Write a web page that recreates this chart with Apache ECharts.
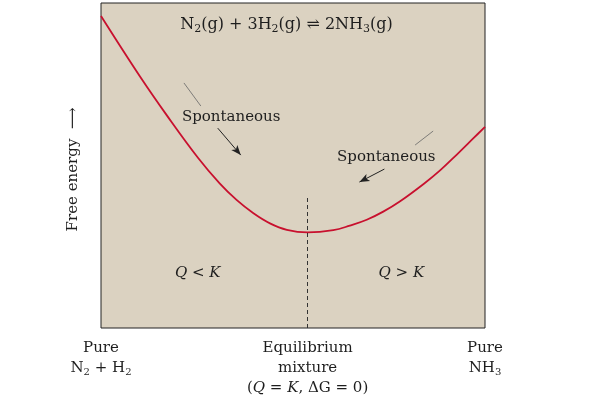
<!DOCTYPE html>
<html><head><meta charset="utf-8">
<script src="https://cdn.jsdelivr.net/npm/echarts@6/dist/echarts.min.js"></script>
<style>html,body{margin:0;padding:0;background:#fff}#c{width:600px;height:400px}</style>
</head><body><div id="c"></div>
<script>
// Reaction progress (0 = pure N2 + H2, 100 = pure NH3) and free energy (arbitrary units)
const composition = [0, 10.2, 17.1, 25.3, 30.9, 35.3, 39.7, 44.0, 48.4, 53.8, 60.5, 64.8, 69.2, 73.5, 77.9, 84.1, 88.3, 92.6, 97.0, 100];
const freeEnergy  = [96.0, 77.3, 65.5, 52.3, 44.5, 39.4, 35.3, 32.2, 30.2, 29.4, 30.1, 31.5, 33.3, 35.8, 39.0, 44.4, 48.5, 53.3, 58.4, 61.9];
const equilibriumX = 53.8;
const equilibriumTop = 40;
const tickValues = [0, 53.8, 100];
const tickLabels = [
  'Pure\nN{s|2} + H{s|2}',
  'Equilibrium\nmixture\n({i|Q} = {i|K}, ΔG = 0)',
  'Pure\nNH{s|3}'
];
const equationText = 'N{t|2}(g) + 3H{t|2}(g) ⇌ 2NH{t|3}(g)';
const regionLabels = ['{i|Q} < {i|K}', '{i|Q} > {i|K}'];
const spontaneousText = 'Spontaneous';

const FONT = 'DejaVu Serif';
const INK = '#1e1e1e';
const rich = {
  s: {fontFamily: FONT, fontSize: 10, color: INK, padding: [8, 0, 0, 0], lineHeight: 20},
  t: {fontFamily: FONT, fontSize: 11, color: INK, padding: [8, 0, 0, 0], lineHeight: 20},
  i: {fontFamily: FONT, fontSize: 15, color: INK, fontStyle: 'italic', lineHeight: 20}
};

const chart = echarts.init(document.getElementById('c'));
const arrowLine = (a, b) => [
  {coord: a, symbol: 'none', lineStyle: {color: '#222', width: 1, type: 'solid'}},
  {coord: b, symbol: 'arrow', symbolSize: [6, 10]}
];
const plainLine = (a, b) => [
  {coord: a, symbol: 'none', lineStyle: {color: '#666', width: 0.8, type: 'solid'}},
  {coord: b, symbol: 'none'}
];
const textPoint = (c, txt, size) => ({
  coord: c,
  label: {formatter: txt, fontSize: size || 15}
});

chart.setOption({
  animation: false,
  backgroundColor: '#ffffff',
  grid: {left: 101, right: 115, top: 3, bottom: 72, show: true,
         backgroundColor: '#dbd2c1', borderColor: '#222', borderWidth: 1},
  xAxis: {
    type: 'value', min: 0, max: 100,
    axisLine: {show: false}, axisTick: {show: false}, splitLine: {show: false},
    axisLabel: {
      customValues: tickValues,
      formatter: (v) => { const k = tickValues.indexOf(v); return k >= 0 ? tickLabels[k] : ''; },
      fontFamily: FONT, fontSize: 15, lineHeight: 20, color: INK, margin: 10,
      rich: rich
    }
  },
  yAxis: {
    type: 'value', min: 0, max: 100,
    axisLine: {show: false}, axisTick: {show: false}, splitLine: {show: false},
    axisLabel: {show: false},
    name: 'Free energy  ⟶', nameLocation: 'middle', nameRotate: 90, nameGap: 20,
    nameTextStyle: {fontFamily: FONT, fontSize: 15, color: INK, padding: [0, 8, 0, 0]}
  },
  series: [{
    type: 'line',
    data: composition.map((x, i) => [x, freeEnergy[i]]),
    smooth: 0.4,
    symbol: 'none',
    lineStyle: {color: '#c8102e', width: 1.8},
    markLine: {
      silent: true, label: {show: false}, emphasis: {disabled: true},
      data: [
        [{coord: [equilibriumX, equilibriumTop], symbol: 'none', lineStyle: {color: '#333', width: 1, type: [4, 3]}},
         {coord: [equilibriumX, 0], symbol: 'none'}],
        plainLine([21.6, 75.4], [26.0, 68.3]),
        arrowLine([30.4, 61.5], [36.4, 53.2]),
        plainLine([86.5, 60.6], [81.8, 56.3]),
        arrowLine([73.8, 48.9], [67.3, 44.9])
      ]
    },
    markPoint: {
      silent: true, symbol: 'circle', symbolSize: 1,
      itemStyle: {color: 'transparent'},
      label: {show: true, position: 'inside', fontFamily: FONT, fontSize: 15, color: INK, lineHeight: 20, rich: rich},
      data: [
        textPoint([48.3, 93.2], equationText, 16),
        textPoint([33.9, 64.9], spontaneousText),
        textPoint([74.3, 52.6], spontaneousText),
        textPoint([25.2, 16.9], regionLabels[0]),
        textPoint([78.2, 16.9], regionLabels[1])
      ]
    }
  }]
});
</script></body></html>
